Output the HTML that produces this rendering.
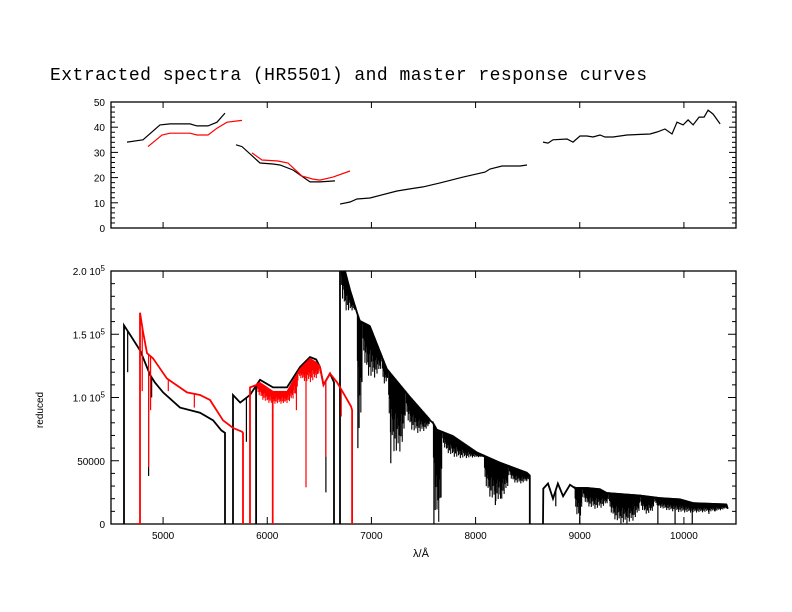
<!DOCTYPE html>
<html><head><meta charset="utf-8"><style>
body{margin:0;background:#fff}
svg{display:block}
text{font-family:"Liberation Sans",sans-serif;font-size:10px;fill:#000}
</style></head><body>
<svg id="chart" width="792" height="612" viewBox="0 0 792 612" xmlns="http://www.w3.org/2000/svg">
<rect width="792" height="612" fill="#fff"/>
<text x="50" y="80" textLength="597" style="font-family:'Liberation Mono',monospace;font-size:18px">Extracted spectra (HR5501) and master response curves</text>
<defs><clipPath id="cb"><rect x="111" y="271" width="625" height="253"/></clipPath></defs>
<g id="topPanel"></g>
<g id="botPanel"></g>
<text transform="translate(43,410) rotate(-90)" text-anchor="middle">reduced</text>
<text x="421" y="557" text-anchor="middle" style="font-size:11px">λ/Å</text>
</svg>
<script>
// ---- data ----
const xTicks=[5000,6000,7000,8000,9000,10000];
const topTicks=[0,10,20,30,40,50];
const botTickVals=[0,50000,100000,150000,200000];
const botTickLabels=["0","50000","1.0 10","1.5 10","2.0 10"];
// response curves (wavelength, value)
const respBlackA=[[4654,34.1],[4807,35],[4970,40.9],[5066,41.3],[5258,41.3],[5325,40.5],[5431,40.5],[5518,42],[5594,45.6]];
const respRedA=[[4855,32.3],[4990,36.9],[5066,37.6],[5258,37.6],[5325,36.9],[5431,36.9],[5518,39.6],[5614,42],[5758,42.7]];
const respBlackB=[[5700,33],[5758,32.3],[5930,25.8],[6055,25.4],[6122,25],[6247,23],[6410,18.3],[6506,18.3],[6650,18.7]];
const respRedB=[[5854,29.8],[5950,27],[6103,26.6],[6199,25.8],[6334,20.6],[6439,19.4],[6506,19],[6631,20.2],[6794,22.6]];
const respBlackC=[[6698,9.5],[6794,10.3],[6862,11.5],[6986,11.9],[7246,14.7],[7370,15.5],[7495,16.3],[7658,17.9],[7880,20.2],[8090,22.2],[8138,23.4],[8254,24.6],[8426,24.6],[8494,25]];
const respBlackD=[[8647,34.1],[8695,33.7],[8743,35],[8878,35.3],[8935,34.1],[9002,36.5],[9070,36.5],[9127,36.1],[9194,36.9],[9242,36.1],[9319,36.1],[9454,36.9],[9674,37.3],[9742,38.1],[9818,39.3],[9886,37.3],[9934,42],[9992,40.9],[10040,42.9],[10088,40.9],[10146,44],[10194,44],[10232,46.8],[10280,45.2],[10347,41.3]];
// spectra continua (wavelength, flux)
const specBlack1=[[4625,0],[4625,157000],[4680,150000],[4780,137000],[4840,125000],[4874,118000],[4920,112000],[5000,104000],[5162,92000],[5354,88000],[5480,82000],[5560,74000],[5594,72000],[5594,0]];
const specBlack2=[[5671,0],[5671,102000],[5740,96000],[5834,102000],[5930,114000],[6055,108000],[6190,108000],[6314,124000],[6410,132000],[6470,130000],[6506,124000],[6540,110000],[6602,119000],[6641,112000],[6641,0]];
const specBlack3=[[6698,0],[6698,215000],[6794,185000],[6862,167000],[6890,160000],[6986,156000],[7150,122000],[7370,100000],[7562,82000],[7590,80000],[7630,74000],[7783,69000],[8014,56000],[8234,48000],[8494,40000],[8520,38000],[8520,0]];
const specBlack4=[[8647,0],[8650,28000],[8695,32000],[8743,20000],[8790,32000],[8840,22000],[8906,31000],[8960,28000],[9070,28000],[9194,27000],[9260,24000],[9578,22000],[9770,20000],[9962,19000],[10090,16000],[10410,15000],[10420,12000]];
const specRed1=[[4740,0],[4778,0],[4778,167000],[4807,152000],[4846,135000],[4903,131000],[5037,115000],[5230,104000],[5354,102000],[5450,98000],[5575,82000],[5670,76000],[5758,73000],[5767,72000],[5767,0]];
const specRed2=[[5834,0],[5834,108000],[5930,111000],[6055,104000],[6190,104000],[6314,122000],[6410,130000],[6470,127000],[6506,124000],[6540,110000],[6602,119000],[6670,112000],[6727,104000],[6804,93000],[6815,90000],[6815,0]];
// individual absorption lines (wavelength, minimum flux)
const linesBlack=[[4660,120000],[4861,38000],[4890,100000],[5800,65000],[5890,0],[5896,0],[6563,25000],[6870,60000],[7600,0],[7186,48000],[8190,15000],[8240,20000],[9000,0],[9750,0],[9915,0],[10080,0],[10240,8000],[10300,10000],[8770,14000]];
const linesRed=[[4800,105000],[4861,45000],[4880,90000],[5050,105000],[5300,92000],[6050,0],[6055,0],[6280,90000],[6372,29000],[6563,53000],[6710,85000],[6000,98000],[6160,97000]];
// absorption bands (start, end, minimum flux)
const bandsBlack=[[6700,6860,168000],[6860,6915,70000],[6915,7100,115000],[7100,7160,110000],[7160,7330,55000],[7330,7560,72000],[7590,7680,0],[7680,8080,52000],[8080,8320,18000],[8320,8520,32000],[8950,9030,5000],[9030,9280,12000],[9280,9580,0],[9580,9720,8000],[9720,10420,9000]];
const bandsRed=[[5900,6300,95000],[6300,6500,112000]];

// ---- scales ----
const X=l=>111+(l-4500)/6000*625;
const YT=v=>228-v/50*126;
const YB=f=>524-f/200000*253;
const NS="http://www.w3.org/2000/svg";
function mk(tag,attrs,parent){const e=document.createElementNS(NS,tag);for(const k in attrs)e.setAttribute(k,attrs[k]);parent.appendChild(e);return e;}
const topG=document.getElementById('topPanel'),botG=document.getElementById('botPanel');

let f1=mk('rect',{x:111,y:102,width:625,height:126,fill:'none',stroke:'#000','stroke-width':1.3},topG);


let f2=mk('rect',{x:111,y:271,width:625,height:253,fill:'none',stroke:'#000','stroke-width':1.3},botG);



xTicks.forEach(t=>{
  const x=X(t);
  [[228,-6],[102,6],[524,-7],[271,7]].forEach(([y,d])=>{
    const l=mk('line',{x1:x,x2:x,y1:y,y2:y+d,stroke:'#000'},y<250?topG:botG);
    
    
  });
  const tx=mk('text',{x:x,y:539,'text-anchor':'middle'},botG);
  tx.textContent=t;
  
  
});
for(let v=0;v<=50;v+=2){
  const maj=v%10===0,len=maj?7:4,y=YT(v);
  const a=mk('line',{x1:111,x2:111+len,y1:y,y2:y,stroke:'#000'},topG);
  
  
  const b=mk('line',{x1:736,x2:736-len,y1:y,y2:y,stroke:'#000'},topG);
  
  
}
topTicks.forEach(v=>{
  const t=mk('text',{x:105,y:YT(v)+4,'text-anchor':'end'},topG);
  t.textContent=v;
  
  
});
for(let v=0;v<=200000;v+=10000){
  const maj=v%50000===0,len=maj?8:4,y=YB(v);
  const a=mk('line',{x1:111,x2:111+len,y1:y,y2:y,stroke:'#000'},botG);
  
  
  const b=mk('line',{x1:736,x2:736-len,y1:y,y2:y,stroke:'#000'},botG);
  
  
}
botTickVals.forEach((v,i)=>{
  const t=mk('text',{x:105,y:YB(v)+4,'text-anchor':'end'},botG);
  t.textContent=botTickLabels[i];
  if(i>=2){const s=mk('tspan',{dy:-4,'font-size':8},t);s.textContent='5';}
  
  
});

function poly(pts,fx,fy,color,parent,name,w){
  const p=mk('polyline',{points:pts.map(p=>fx(p[0]).toFixed(1)+','+fy(p[1]).toFixed(1)).join(' '),fill:'none',stroke:color,'stroke-width':w},parent);
  
  
  return p;
}
function interp(seg,l){for(let i=1;i<seg.length;i++){const a=seg[i-1],b=seg[i];if(l>=a[0]&&l<=b[0]&&b[0]>a[0])return a[1]+(b[1]-a[1])*(l-a[0])/(b[0]-a[0]);}return null;}
function cont(segs,l){for(const s of segs){const v=interp(s,l);if(v!==null&&v>0)return v;}return null;}

poly(respBlackA,X,YT,'#000',topG,'response-black-a',1.2);
poly(respRedA,X,YT,'#f00',topG,'response-red-a',1.2);
poly(respBlackB,X,YT,'#000',topG,'response-black-b',1.2);
poly(respRedB,X,YT,'#f00',topG,'response-red-b',1.2);
poly(respBlackC,X,YT,'#000',topG,'response-black-c',1.2);
poly(respBlackD,X,YT,'#000',topG,'response-black-d',1.2);

const gc=mk('g',{'clip-path':'url(#cb)'},botG);


const blackSegs=[specBlack1,specBlack2,specBlack3,specBlack4];
const redSegs=[specRed1,specRed2];
const jag=[1,0.55,0.8,0.45,0.95,0.65,0.5,0.85,0.6,0.75];
function drawSpec(segs,lines,bands,color,name){
  bands.forEach(b=>{
    const n=Math.max(3,Math.round((X(b[1])-X(b[0]))/0.6));
    for(let k=0;k<=n;k++){
      const l=b[0]+(b[1]-b[0])*k/n;
      const c=cont(segs,l);if(c===null)continue;
      const t=k/n,env=Math.pow(Math.sin(Math.PI*t),0.3);
      const f=c-(c-b[2])*env*jag[k%jag.length];
      const e=mk('line',{x1:X(l),x2:X(l),y1:YB(c)-1.5,y2:YB(f),stroke:color,'stroke-width':1.1},gc);
      
      
    }
  });
  segs.forEach((s,i)=>poly(s,X,YB,color,gc,name+'-segment-'+(i+1),1.8));
  lines.forEach(ln=>{
    const c=cont(segs,ln[0]);if(c===null)return;
    const e=mk('line',{x1:X(ln[0]),x2:X(ln[0]),y1:YB(c),y2:YB(ln[1]),stroke:color,'stroke-width':1.2},gc);
    
    
  });
}
drawSpec(blackSegs,linesBlack,bandsBlack,'#000','black-spectrum');
drawSpec(redSegs,linesRed,bandsRed,'#f00','red-spectrum');
</script>
</body></html>
